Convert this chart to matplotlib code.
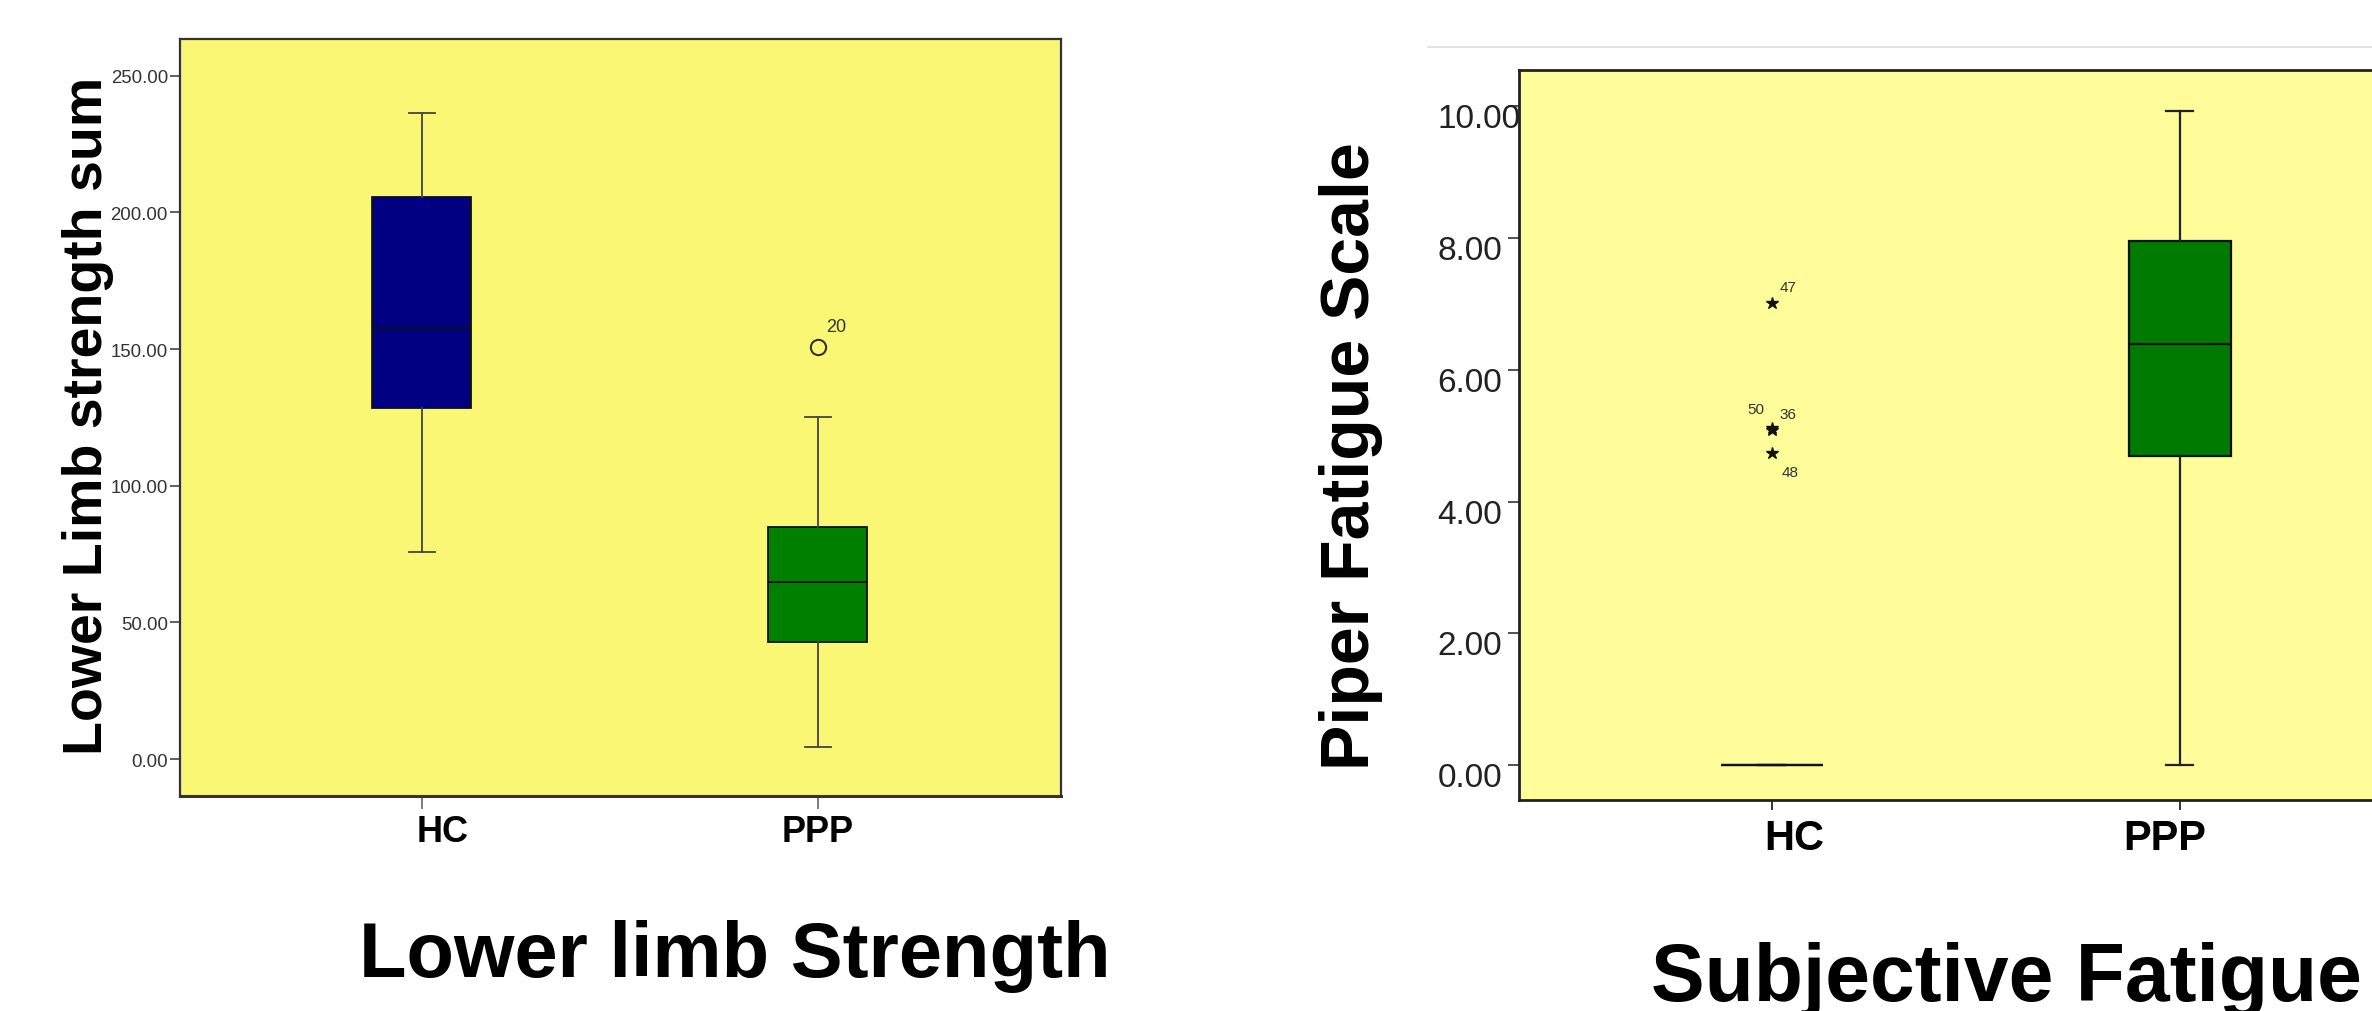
import matplotlib
matplotlib.use("Agg")
import matplotlib.pyplot as plt
import matplotlib.transforms as mtransforms
from matplotlib import font_manager as fm
from matplotlib.lines import Line2D

# ---------------- data ----------------
groups = ["HC", "PPP"]

strength_whislo = [75.8, 4.4]
strength_q1 = [128.5, 42.7]
strength_med = [157.3, 64.9]
strength_q3 = [205.6, 85.0]
strength_whishi = [236.3, 125.0]
strength_outliers = [[], [150.7]]
strength_outlier_ids = [[], ["20"]]

fatigue_whislo = [0.0, 0.0]
fatigue_q1 = [0.0, 4.69]
fatigue_med = [0.0, 6.39]
fatigue_q3 = [0.0, 7.95]
fatigue_whishi = [0.0, 9.93]
fatigue_outliers = [[7.02, 5.12, 5.09, 4.74], []]
fatigue_outlier_ids = [["47", "50", "36", "48"], []]

strength_ticks = [0, 50, 100, 150, 200, 250]
fatigue_ticks = [0, 2, 4, 6, 8, 10]


def has_font(name):
    try:
        fm.findfont(fm.FontProperties(family=name), fallback_to_default=False)
        return True
    except Exception:
        return False


SANS = "Liberation Sans" if has_font("Liberation Sans") else "DejaVu Sans"
NARROW = "Liberation Sans Narrow" if has_font("Liberation Sans Narrow") else SANS
plt.rcParams["font.family"] = [SANS, "DejaVu Sans"]

W, H = 2372, 1012
fig = plt.figure(figsize=(W / 100, H / 100), dpi=100)
fig.patch.set_facecolor("white")

ax1 = fig.add_axes([180 / W, 1 - 796.7 / H, (1061 - 180) / W, (796.7 - 40) / H])
ax2 = fig.add_axes([1519.3 / W, 1 - 801 / H, (2432 - 1519.3) / W, (801 - 70.7) / H])


def make_stats(lo, q1, med, q3, hi):
    out = []
    for i in range(len(lo)):
        out.append(dict(whislo=lo[i], q1=q1[i], med=med[i], q3=q3[i],
                        whishi=hi[i], fliers=[], label=groups[i]))
    return out


positions = [1, 2]

# ---------------- left panel ----------------
ax1.set_facecolor("#FAF774")
st1 = make_stats(strength_whislo, strength_q1, strength_med, strength_q3, strength_whishi)
b1 = ax1.bxp(st1, positions=positions, widths=0.25, patch_artist=True,
             showfliers=False, capwidths=0.065,
             boxprops=dict(edgecolor="#111111", linewidth=1.3),
             medianprops=dict(color="#111111", linewidth=1.3),
             whiskerprops=dict(color="#444444", linewidth=1.3),
             capprops=dict(color="#444444", linewidth=1.3))
for patch, col in zip(b1["boxes"], ["#000080", "#008000"]):
    patch.set_facecolor(col)

for i, (vals, ids) in enumerate(zip(strength_outliers, strength_outlier_ids)):
    for v, lab in zip(vals, ids):
        ax1.plot(positions[i], v, marker="o", markersize=11, markerfacecolor="none",
                 markeredgecolor="#333333", markeredgewidth=1.5, linestyle="none")
        ax1.annotate(lab, xy=(positions[i], v), xytext=(5.8, 11.3),
                     textcoords="offset points", ha="left", va="baseline",
                     fontsize=13, color="#333333")

ax1.set_xlim(0.389, 2.614)
ax1.set_ylim(-13.4, 263.4)
ax1.set_yticks(strength_ticks)
ax1.set_yticklabels([f"{t:.2f}" for t in strength_ticks])
ax1.set_xticks(positions)
ax1.set_xticklabels(groups)
ax1.tick_params(axis="y", length=7.2, width=1.2, color="#444444", pad=1.5,
                labelsize=13.4, labelcolor="#333333")
ax1.tick_params(axis="x", length=9.4, width=1.2, color="#666666", pad=4,
                labelsize=26)
for lab in ax1.get_xticklabels():
    lab.set_fontweight("bold")
for sp in ax1.spines.values():
    sp.set_color("#333333")
    sp.set_linewidth(1.6)
ax1.spines["bottom"].set_linewidth(2.2)

off = mtransforms.ScaledTranslation(21 / 100, 0, fig.dpi_scale_trans)
hc1 = ax1.get_xticklabels()[0]
hc1.set_transform(hc1.get_transform() + off)

# ---------------- right panel ----------------
ax2.set_facecolor("#FFFD99")
st2 = make_stats(fatigue_whislo, fatigue_q1, fatigue_med, fatigue_q3, fatigue_whishi)
b2 = ax2.bxp(st2, positions=positions, widths=0.25, patch_artist=True,
             showfliers=False, capwidths=0.065,
             boxprops=dict(edgecolor="#111111", linewidth=1.6),
             medianprops=dict(color="#111111", linewidth=1.6),
             whiskerprops=dict(color="#222222", linewidth=1.6),
             capprops=dict(color="#222222", linewidth=1.6))
for patch, col in zip(b2["boxes"], ["#007A00", "#007A00"]):
    patch.set_facecolor(col)

label_offsets = {"47": (5.5, 8.1, "left"), "50": (-5.0, 10.8, "right"),
                 "36": (5.8, 8.6, "left"), "48": (7.2, -16.6, "left")}
for i, (vals, ids) in enumerate(zip(fatigue_outliers, fatigue_outlier_ids)):
    for v, lab in zip(vals, ids):
        ax2.plot(positions[i], v, marker="*", markersize=9, color="#111111",
                 linestyle="none")
        dx, dy, ha = label_offsets.get(lab, (5, 8, "left"))
        ax2.annotate(lab, xy=(positions[i], v), xytext=(dx, dy),
                     textcoords="offset points", ha=ha, va="baseline",
                     fontsize=11, color="#333333", family=[NARROW, "DejaVu Sans"])

ax2.set_xlim(0.381, 2.619)
ax2.set_ylim(-0.531, 10.556)
ax2.set_yticks(fatigue_ticks)
ax2.set_yticklabels([f"{t:.2f}" for t in fatigue_ticks])
ax2.set_xticks(positions)
ax2.set_xticklabels(groups)
ax2.tick_params(axis="y", length=8, width=1.2, color="#333333", pad=51,
                labelsize=24, labelcolor="#222222")
ax2.tick_params(axis="x", length=7.5, width=1.4, color="#333333", pad=5.5,
                labelsize=30)
yoff = mtransforms.ScaledTranslation(0, -9 / 100, fig.dpi_scale_trans)
for lab in ax2.get_yticklabels():
    lab.set_horizontalalignment("left")
    lab.set_family([NARROW, "DejaVu Sans"])
    lab.set_transform(lab.get_transform() + yoff)
for lab in ax2.get_xticklabels():
    lab.set_fontweight("bold")
for sp in ax2.spines.values():
    sp.set_color("#222222")
    sp.set_linewidth(2.0)

xlabs2 = ax2.get_xticklabels()
for lab, dx in zip(xlabs2, [23, -15]):
    lab.set_transform(lab.get_transform() +
                      mtransforms.ScaledTranslation(dx / 100, 0, fig.dpi_scale_trans))

# thin grey line above right panel
fig.add_artist(Line2D([1428 / W, 1.0], [1 - 48.3 / H, 1 - 48.3 / H],
                      color="#DDDDDD", linewidth=1.2, transform=fig.transFigure))

# ---------------- labels ----------------
fig.text(88 / W, 1 - 416 / H, "Lower Limb strength sum", rotation=90,
         ha="center", va="center", fontsize=40, fontweight="bold", color="black")
fig.text(1351 / W, 1 - 455.6 / H, "Piper Fatigue Scale", rotation=90,
         ha="center", va="center", fontsize=49, fontweight="bold", color="black")
fig.text(735 / W, 1 - 977 / H, "Lower limb Strength", ha="center", va="baseline",
         fontsize=56, fontweight="bold", color="black")
fig.text(2006 / W, 1 - 1001 / H, "Subjective Fatigue", ha="center", va="baseline",
         fontsize=58, fontweight="bold", color="black")

fig.savefig("out.png", dpi=100, facecolor="white")
